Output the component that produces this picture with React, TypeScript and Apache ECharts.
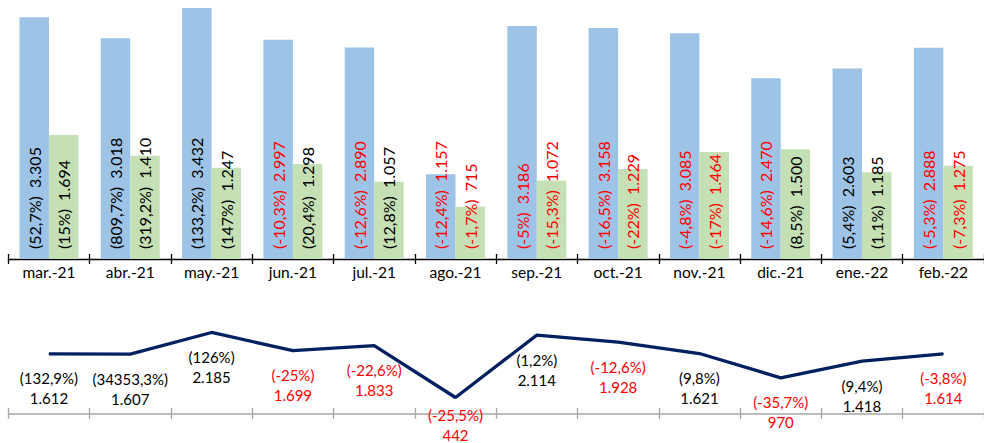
import React, { useEffect, useRef } from "react";
import * as echarts from "echarts";

const categories = ["mar.-21", "abr.-21", "may.-21", "jun.-21", "jul.-21", "ago.-21", "sep.-21", "oct.-21", "nov.-21", "dic.-21", "ene.-22", "feb.-22"];
const blueValues = [3305, 3018, 3432, 2997, 2890, 1157, 3186, 3158, 3085, 2470, 2603, 2888];
const bluePct = [52.7, 809.7, 133.2, -10.3, -12.6, -12.4, -5, -16.5, -4.8, -14.6, 5.4, -5.3];
const greenValues = [1694, 1410, 1247, 1298, 1057, 715, 1072, 1229, 1464, 1500, 1185, 1275];
const greenPct = [15, 319.2, 147, 20.4, 12.8, -1.7, -15.3, -22, -17, 8.5, 1.1, -7.3];
const lineValues = [1612, 1607, 2185, 1699, 1833, 442, 2114, 1928, 1621, 970, 1418, 1614];
const linePct = [132.9, 34353.3, 126, -25, -22.6, -25.5, 1.2, -12.6, 9.8, -35.7, 9.4, -3.8];

const RED = "#FF0000";
const BLACK = "#000000";
const FONT = "Lato";

const fmtNum = (v: number) => v.toString().replace(/\B(?=(\d{3})+(?!\d))/g, ".");
const fmtPct = (v: number) => "(" + String(v).replace(".", ",") + "%)";

export default function App() {
  const ref = useRef<HTMLDivElement>(null);
  useEffect(() => {
    if (!ref.current) return;
    const chart = echarts.init(ref.current, undefined, { renderer: "svg" });

    const barData = (vals: number[], pcts: number[]) =>
      vals.map((v, i) => ({
        value: v,
        label: { color: pcts[i] < 0 ? RED : BLACK },
      }));

    const barLabel = (pcts: number[]) => ({
      show: true,
      position: "insideBottom",
      rotate: 90,
      align: "left",
      verticalAlign: "middle",
      distance: 10,
      fontFamily: FONT,
      fontSize: 16,
      formatter: (p: any) => fmtPct(pcts[p.dataIndex]) + "  " + fmtNum(p.value),
    });

    const lineData = lineValues.map((v, i) => ({
      value: v,
      label: {
        color: linePct[i] < 0 ? RED : BLACK,
        distance: i === 5 ? 7 : 14,
      },
    }));

    chart.setOption({
      animation: false,
      grid: [
        { left: 8.3, width: 978, top: 0, height: 259 },
        { left: 8.3, width: 978, top: 317, height: 97 },
      ],
      xAxis: [
        {
          type: "category",
          gridIndex: 0,
          position: "bottom",
          data: categories,
          axisLine: { lineStyle: { color: "#000", width: 1.3 } },
          axisTick: { show: true, inside: false, length: 5, lineStyle: { color: "#000", width: 1.3 } },
          axisLabel: { color: "#000", fontFamily: FONT, fontSize: 15.5, margin: 5 },
        },
        {
          type: "category",
          gridIndex: 0,
          position: "bottom",
          data: categories,
          axisLine: { show: false },
          axisTick: { show: true, inside: true, length: 5, lineStyle: { color: "#000", width: 1.3 } },
          axisLabel: { show: false },
        },
        {
          type: "category",
          gridIndex: 1,
          position: "bottom",
          data: categories,
          axisLine: { lineStyle: { color: "#A6A6A6", width: 1.5 } },
          axisTick: { show: true, inside: false, length: 5, lineStyle: { color: "#A6A6A6", width: 1.3 } },
          axisLabel: { show: false },
        },
        {
          type: "category",
          gridIndex: 1,
          position: "bottom",
          data: categories,
          axisLine: { show: false },
          axisTick: { show: true, inside: true, length: 6, lineStyle: { color: "#A6A6A6", width: 1.3 } },
          axisLabel: { show: false },
        },
      ],
      yAxis: [
        { type: "value", gridIndex: 0, min: 0, max: 3540, show: false },
        { type: "value", gridIndex: 1, min: 0, max: 2600, show: false },
      ],
      series: [
        {
          type: "bar",
          xAxisIndex: 0,
          yAxisIndex: 0,
          data: barData(blueValues, bluePct),
          itemStyle: { color: "#9DC3E6" },
          barGap: "0%",
          barCategoryGap: "27.5%",
          label: barLabel(bluePct),
        },
        {
          type: "bar",
          xAxisIndex: 0,
          yAxisIndex: 0,
          data: barData(greenValues, greenPct),
          itemStyle: { color: "#C5E0B4" },
          barGap: "0%",
          barCategoryGap: "27.5%",
          label: barLabel(greenPct),
        },
        {
          type: "line",
          xAxisIndex: 2,
          yAxisIndex: 1,
          data: lineData,
          symbol: "circle",
          symbolSize: 1,
          itemStyle: { color: "#002060" },
          lineStyle: { color: "#002060", width: 3.3 },
          label: {
            show: true,
            position: "bottom",
            fontFamily: FONT,
            fontSize: 15,
            lineHeight: 20,
            align: "center",
            formatter: (p: any) => fmtPct(linePct[p.dataIndex]) + "\n" + fmtNum(p.value),
          },
        },
      ],
    });
    return () => chart.dispose();
  }, []);
  return (
    <div
      ref={ref}
      style={{ position: "fixed", left: 0, top: 0, width: 984, height: 443, background: "#fff" }}
    />
  );
}
